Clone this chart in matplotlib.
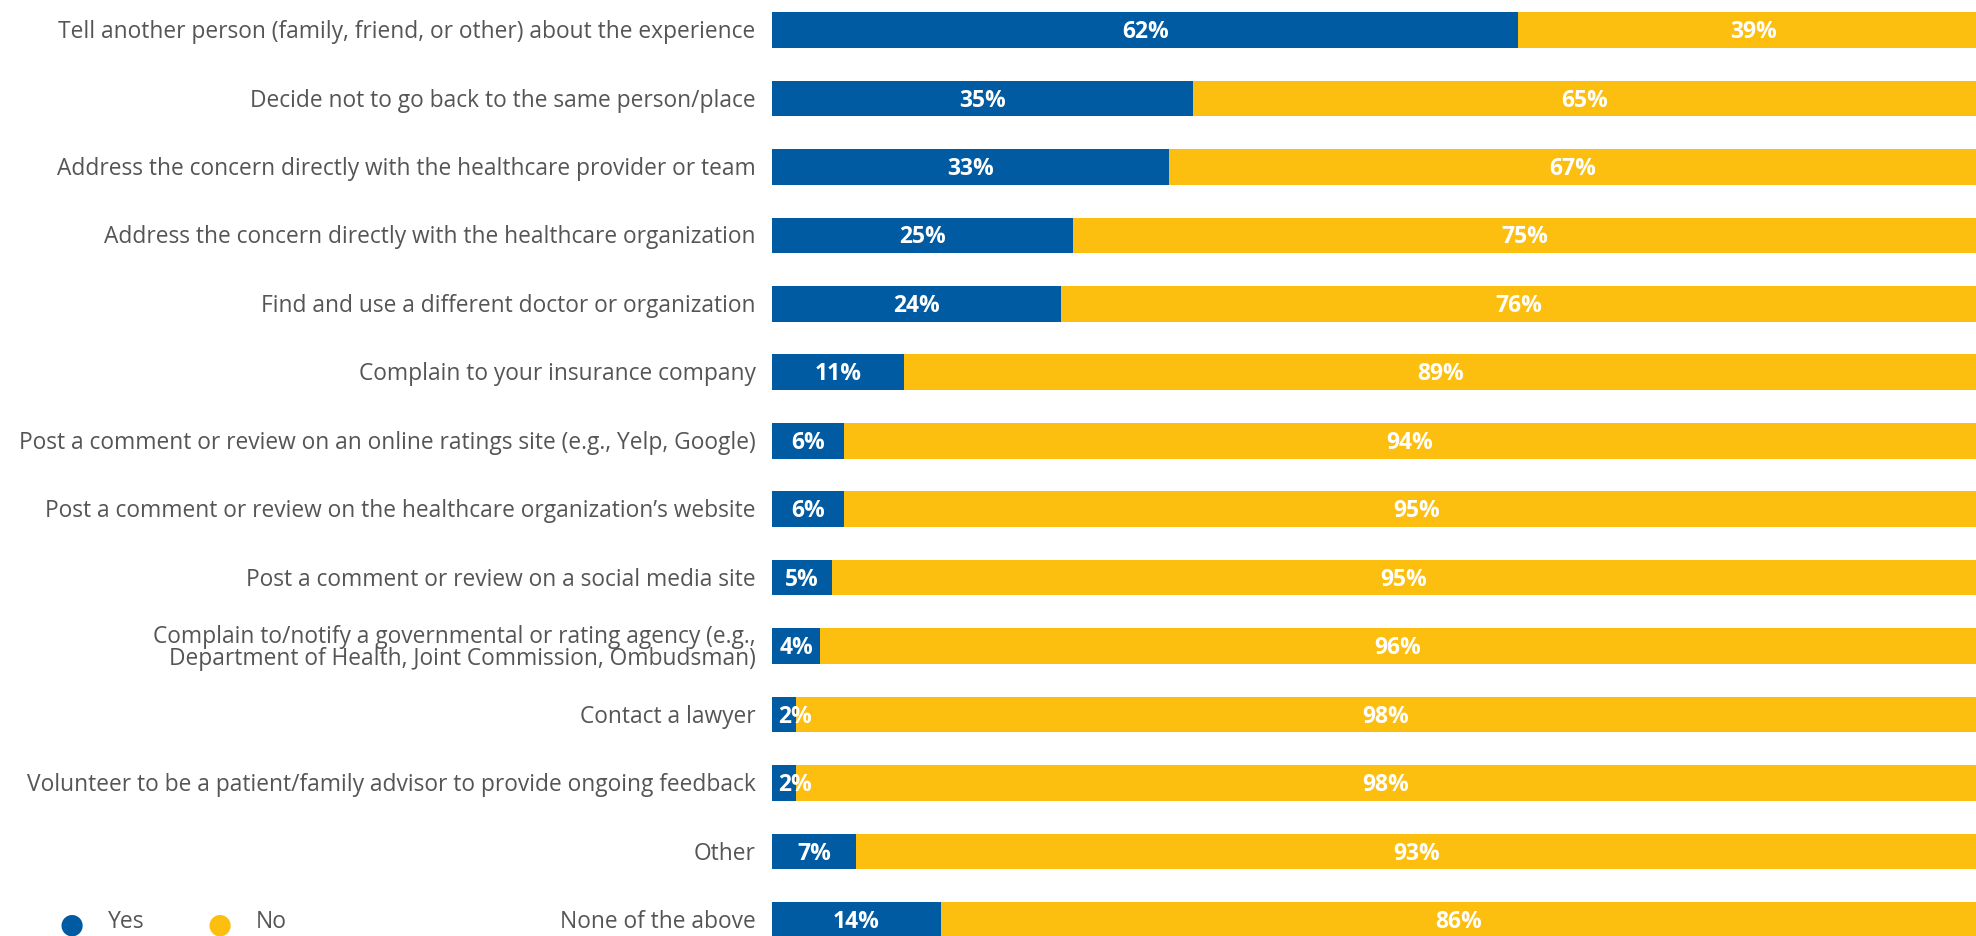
import matplotlib.pyplot as plt

actions = [
    "Tell another person (family, friend, or other) about the experience",
    "Decide not to go back to the same person/place",
    "Address the concern directly with the healthcare provider or team",
    "Address the concern directly with the healthcare organization",
    "Find and use a different doctor or organization",
    "Complain to your insurance company",
    "Post a comment or review on an online ratings site (e.g., Yelp, Google)",
    "Post a comment or review on the healthcare organization\u2019s website",
    "Post a comment or review on a social media site",
    "Complain to/notify a governmental or rating agency (e.g.,\nDepartment of Health, Joint Commission, Ombudsman)",
    "Contact a lawyer",
    "Volunteer to be a patient/family advisor to provide ongoing feedback",
    "Other",
    "None of the above",
]
yes = [62, 35, 33, 25, 24, 11, 6, 6, 5, 4, 2, 2, 7, 14]
no = [39, 65, 67, 75, 76, 89, 94, 95, 95, 96, 98, 98, 93, 86]

BLUE = "#005ba3"
GOLD = "#fcbf10"
GREY = "#555555"

plt.rcParams['font.family'] = ['Open Sans', 'DejaVu Sans']

fig = plt.figure(figsize=(19.76, 9.36), dpi=100)
ax = fig.add_axes([772 / 1976, 0, 1204 / 1976, 1])

pos = list(range(len(actions)))
ax.barh(pos, yes, height=0.52, color=BLUE)
ax.barh(pos, no, left=yes, height=0.52, color=GOLD)

for i in pos:
    ax.text(max(yes[i] / 2, 1.9), i + 0.03, f"{yes[i]}%", ha='center', va='center',
            color='white', fontsize=16.5, fontweight='bold')
    ax.text(yes[i] + no[i] / 2, i + 0.03, f"{no[i]}%", ha='center', va='center',
            color='white', fontsize=16.5, fontweight='bold')
    ax.text(-1.35, i + 0.03, actions[i], ha='right', va='center', color=GREY,
            fontsize=16.4, linespacing=0.9)

ax.set_xlim(0, 100)
ax.set_ylim(13.234, -0.438)
ax.axis('off')

# legend along the bottom left
fig.text(72 / 1976, 0.011, "\u25cf", color=BLUE, fontsize=20, ha='center', va='center')
fig.text(108 / 1976, 0.002, "Yes", color=GREY, fontsize=16.5, ha='left', va='bottom')
fig.text(220 / 1976, 0.011, "\u25cf", color=GOLD, fontsize=20, ha='center', va='center')
fig.text(256 / 1976, 0.002, "No", color=GREY, fontsize=16.5, ha='left', va='bottom')

fig.savefig("out.png", dpi=100)
